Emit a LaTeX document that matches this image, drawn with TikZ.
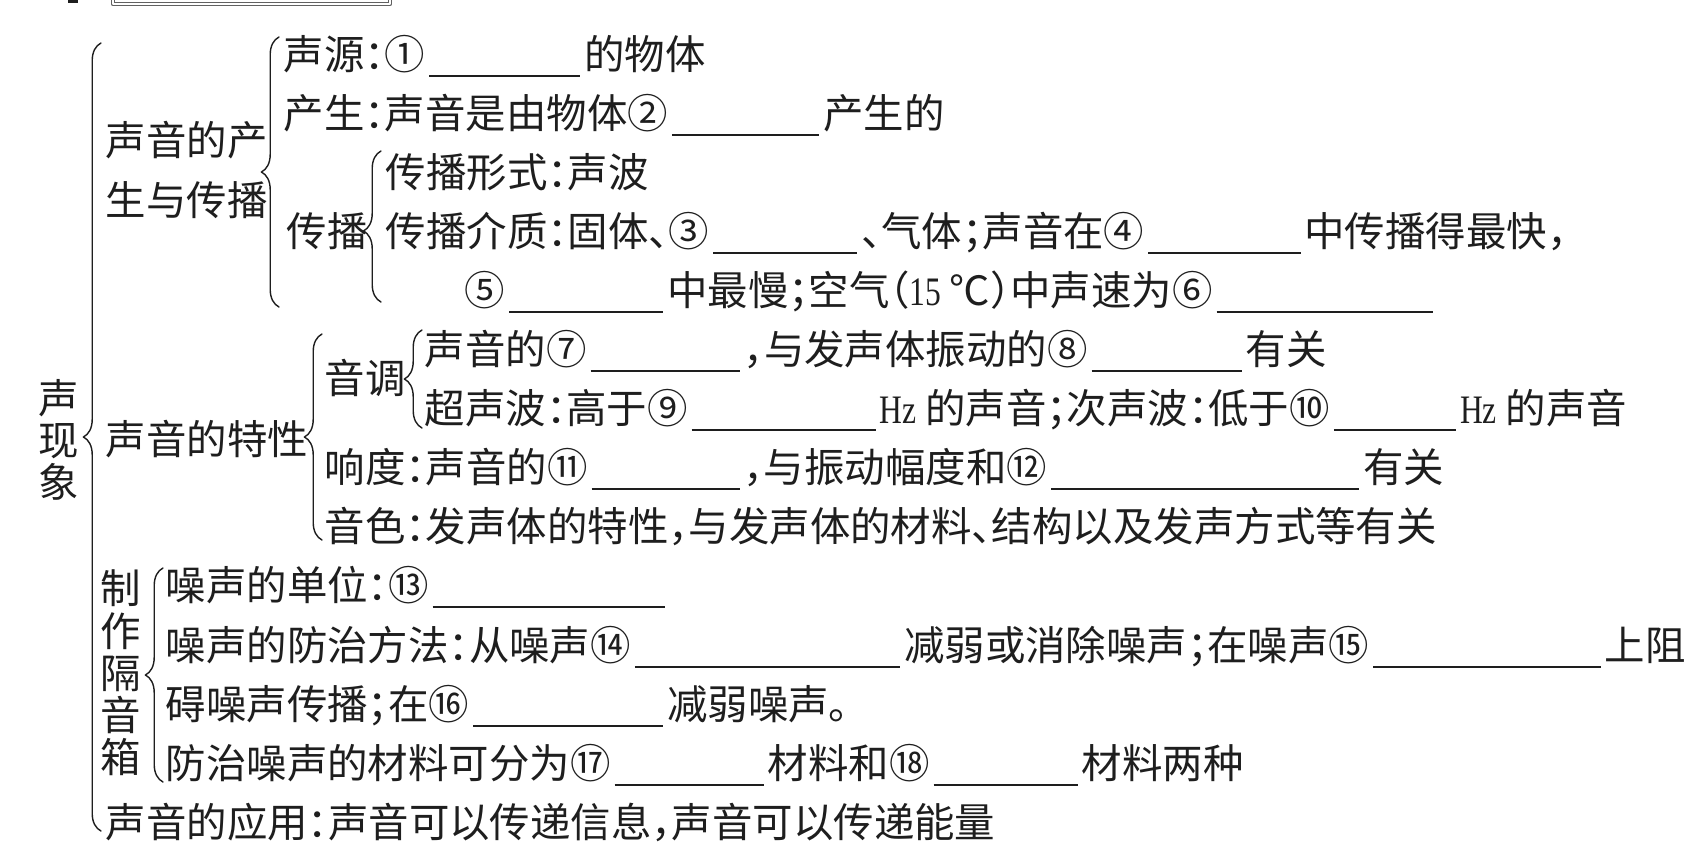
\documentclass[tikz,border=0pt]{standalone}
\usepackage{fontspec}
\setmainfont{Noto Sans CJK SC}[RawFeature=+halt]
\newfontfamily\latinf{Liberation Serif}[FakeStretch=0.78]
\usetikzlibrary{decorations.pathreplacing}
\definecolor{ink}{HTML}{1E1E1E}
\newcommand\blank[1]{\kern0.1em\rule[-0.2em]{#1em}{0.6pt}\kern0.1em}
\newcommand\hz{{\latinf Hz}\kern0.22em}
\tikzset{row/.style={anchor=base west,inner sep=0pt},
	lbl/.style={anchor=west,inner sep=0pt},
	vlbl/.style={inner sep=0pt,align=center,font={\fontsize{11.5pt}{12pt}\selectfont}},
	brc/.style={decorate,decoration={brace,amplitude=5pt},thin}}
\begin{document}
\begin{tikzpicture}[x=0.01cm,y=-0.01cm,line join=round,line cap=round,color=ink,font={\fontsize{11.5pt}{17pt}\selectfont}]
	\useasboundingbox[fill=white] (0,0) rectangle (1692,848);
	% cut-off header
	\fill (68,0) rectangle (78,3);
	\draw[ink!70,double,double distance=0.5pt] (113,-5) -- (113,4) -- (390,4) -- (390,-5);
	% labels
	\node[vlbl] (root) at (59,440) {声\\现\\象};
	\node[lbl,align=left] (birth) at (105,170) {声音的产\\生与传播};
	\node[lbl] (spread) at (286,231) {传播};
	\node[lbl] (traits) at (105,439) {声音的特性};
	\node[lbl] (pitch) at (324,378) {音调};
	\node[vlbl] (box) at (121,673) {制\\作\\隔\\音\\箱};
	% rows
	\node[row] (src) at (283,69) {声源：①\blank{3.73}的物体};
	\node[row] (gen) at (283,128) {产生：声音是由物体②\blank{3.64}产生的};
	\node[row] (form) at (385,187) {传播形式：声波};
	\node[row] (medium) at (385,246) {传播介质：固体、③\blank{3.56}、气体；声音在④\blank{3.76}中传播得最快，};
	\node[row] (slow) at (464,305) {⑤\blank{3.81}中最慢；空气（{\latinf 15}\kern0.2em℃）中声速为⑥\blank{5.35}};
	\node[row] (pitchA) at (424,364) {声音的⑦\blank{3.69}，与发声体振动的⑧\blank{3.71}有关};
	\node[row] (pitchB) at (424,423) {超声波：高于⑨\blank{4.55}\hz 的声音；次声波：低于⑩\blank{3.02}\hz 的声音};
	\node[row] (loud) at (324,482) {响度：声音的⑪\blank{3.66}，与振动幅度和⑫\blank{7.62}有关};
	\node[row] (timbre) at (324,541) {音色：发声体的特性，与发声体的材料、结构以及发声方式等有关};
	\node[row] (unit) at (165,600) {噪声的单位：⑬\blank{5.74}};
	\node[row] (cureA) at (165,660) {噪声的防治方法：从噪声⑭\blank{6.56}减弱或消除噪声；在噪声⑮\blank{5.62}上阻};
	\node[row] (cureB) at (165,719) {碍噪声传播；在⑯\blank{4.7}减弱噪声。};
	\node[row] (stuff) at (165,778) {防治噪声的材料可分为⑰\blank{3.69}材料和⑱\blank{3.56}材料两种};
	\node[row] (usage) at (105,837) {声音的应用：声音可以传递信息，声音可以传递能量};
	% braces
	\coordinate (rootS) at (101,831); \coordinate (rootE) at (101,43);
	\coordinate (birthS) at (279,307); \coordinate (birthE) at (279,37);
	\coordinate (spreadS) at (381,302); \coordinate (spreadE) at (381,151);
	\coordinate (traitsS) at (322,540); \coordinate (traitsE) at (322,334);
	\coordinate (pitchS) at (422,428); \coordinate (pitchE) at (422,330);
	\coordinate (boxS) at (163,782); \coordinate (boxE) at (163,568);
	\draw[brc] (rootS) -- (rootE);
	\draw[brc] (birthS) -- (birthE);
	\draw[brc,decoration={aspect=0.47}] (spreadS) -- (spreadE);
	\draw[brc] (traitsS) -- (traitsE);
	\draw[brc] (pitchS) -- (pitchE);
	\draw[brc] (boxS) -- (boxE);
\end{tikzpicture}
\end{document}
